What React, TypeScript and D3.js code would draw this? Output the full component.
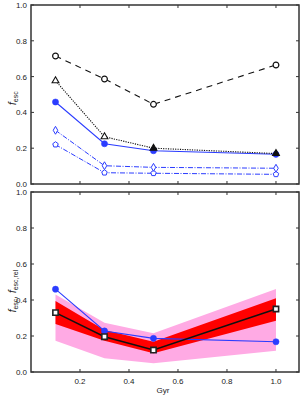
import React, { useEffect, useRef } from 'react';
import * as d3 from 'd3';

// shared x positions (Gyr)
const ages = [0.1, 0.3, 0.5, 1.0];
const xTicks = [0.2, 0.4, 0.6, 0.8, 1.0];
const yTicks = [0.0, 0.2, 0.4, 0.6, 0.8, 1.0];

// top panel series
const blackCircles = [0.715, 0.587, 0.445, 0.665];
const blackTriangles = [0.577, 0.264, 0.2, 0.17];
const triangleFilled = [false, false, true, true];
const blueFilled = [0.458, 0.225, 0.186, 0.166];
const blueDiamonds = [0.3, 0.102, 0.093, 0.088];
const bluePentagons = [0.22, 0.063, 0.06, 0.054];

// bottom panel series
const pinkLow = [0.174, 0.076, 0.048, 0.118];
const pinkHigh = [0.43, 0.274, 0.215, 0.461];
const redLow = [0.267, 0.174, 0.104, 0.285];
const redHigh = [0.394, 0.233, 0.168, 0.41];
const relSquares = [0.33, 0.196, 0.122, 0.35];
const blueBottom = [0.46, 0.228, 0.187, 0.168];

const W = 301;
const H = 396;
const BLUE = '#2b3cff';

export default function App() {
  const svgRef = useRef<SVGSVGElement>(null);

  useEffect(() => {
    if (!svgRef.current) return;
    const svg = d3.select(svgRef.current);
    svg.selectAll('*').remove();
    svg.style('font-family', '"Liberation Sans", Arial, sans-serif');

    const x = d3.scaleLinear().domain([0, 1.094]).range([31, 299]);

    const drawFrame = (g: any, y: any, showXLabels: boolean) => {
      const [y0, y1] = y.range();
      const [x0, x1] = x.range();
      // ticks inside
      xTicks.forEach(t => {
        g.append('line').attr('x1', x(t)).attr('x2', x(t)).attr('y1', y0).attr('y2', y0 - 3)
          .attr('stroke', '#333').attr('stroke-width', 1);
        g.append('line').attr('x1', x(t)).attr('x2', x(t)).attr('y1', y1).attr('y2', y1 + 3)
          .attr('stroke', '#333').attr('stroke-width', 1);
        if (showXLabels) {
          g.append('text').attr('x', x(t)).attr('y', y0 + 12).attr('text-anchor', 'middle')
            .attr('font-size', 8).attr('fill', '#222').text(d3.format('.1f')(t));
        }
      });
      yTicks.forEach(t => {
        g.append('line').attr('x1', x0).attr('x2', x0 + 3).attr('y1', y(t)).attr('y2', y(t))
          .attr('stroke', '#333').attr('stroke-width', 1);
        g.append('line').attr('x1', x1).attr('x2', x1 - 3).attr('y1', y(t)).attr('y2', y(t))
          .attr('stroke', '#333').attr('stroke-width', 1);
        g.append('text').attr('x', x0 - 4).attr('y', y(t) + 3).attr('text-anchor', 'end')
          .attr('font-size', 8).attr('fill', '#222').text(d3.format('.1f')(t));
      });
      g.append('rect').attr('x', x0).attr('y', y1).attr('width', x1 - x0).attr('height', y0 - y1)
        .attr('fill', 'none').attr('stroke', '#333').attr('stroke-width', 1.5);
    };

    const series = (g: any, y: any, vals: number[], stroke: string, width: number, dash: string | null) => {
      const line = d3.line<number>().x((_, i) => x(ages[i])).y(d => y(d));
      g.append('path').attr('d', line(vals)).attr('fill', 'none').attr('stroke', stroke)
        .attr('stroke-width', width).attr('stroke-dasharray', dash);
    };

    const markers = (g: any, y: any, vals: number[], type: any, size: number,
      fill: string | ((i: number) => string), stroke: string, sw = 1) => {
      const sym = d3.symbol().type(type).size(size);
      vals.forEach((v, i) => {
        g.append('path').attr('d', sym()).attr('transform', `translate(${x(ages[i])},${y(v)})`)
          .attr('fill', typeof fill === 'function' ? fill(i) : fill)
          .attr('stroke', stroke).attr('stroke-width', sw);
      });
    };

    const pentagon = {
      draw(ctx: any, size: number) {
        const r = Math.sqrt(size / 2.4);
        for (let k = 0; k < 5; k++) {
          const a = -Math.PI / 2 + (k * 2 * Math.PI) / 5;
          if (k === 0) ctx.moveTo(r * Math.cos(a), r * Math.sin(a));
          else ctx.lineTo(r * Math.cos(a), r * Math.sin(a));
        }
        ctx.closePath();
      },
    };

    // ---------- top panel
    const yTop = d3.scaleLinear().domain([0, 1]).range([184, 5]);
    const top = svg.append('g');
    series(top, yTop, bluePentagons, BLUE, 1, '5,1.5,1,1.5');
    series(top, yTop, blueDiamonds, BLUE, 1, '5,1.5,1,1.5');
    series(top, yTop, blueFilled, BLUE, 1.1, null);
    series(top, yTop, blackTriangles, '#111', 1.1, '1.2,1.2');
    series(top, yTop, blackCircles, '#111', 1.1, '6,5');
    markers(top, yTop, bluePentagons, pentagon, 20, 'white', BLUE, 1);
    markers(top, yTop, blueDiamonds, d3.symbolDiamond, 18, 'white', BLUE, 1);
    markers(top, yTop, blackCircles, d3.symbolCircle, 26, 'white', '#111', 1.2);
    markers(top, yTop, blueFilled, d3.symbolCircle, 30, BLUE, BLUE, 0.5);
    markers(top, yTop, blackTriangles, d3.symbolTriangle, 20,
      i => (triangleFilled[i] ? '#111' : 'white'), '#111', 1.1);
    drawFrame(top, yTop, false);
    top.append('text')
      .attr('transform', `translate(16,${yTop(0.48)}) rotate(-90)`)
      .attr('text-anchor', 'middle').attr('font-size', 10).attr('fill', '#222')
      .html('<tspan font-style="italic">f</tspan><tspan font-size="7" dy="2">esc</tspan>');

    // ---------- bottom panel
    const yBot = d3.scaleLinear().domain([0, 1]).range([372, 192]);
    const bot = svg.append('g');
    const band = (lo: number[], hi: number[], color: string) => {
      const area = d3.area<number>().x((_, i) => x(ages[i])).y0((_, i) => yBot(lo[i])).y1(d => yBot(d));
      bot.append('path').attr('d', area(hi)).attr('fill', color);
    };
    band(pinkLow, pinkHigh, '#ffaae4');
    band(redLow, redHigh, '#ff0000');
    series(bot, yBot, blueBottom, BLUE, 1.1, null);
    series(bot, yBot, relSquares, '#111', 1.5, null);
    markers(bot, yBot, blueBottom, d3.symbolCircle, 30, BLUE, BLUE, 0.5);
    markers(bot, yBot, relSquares, d3.symbolSquare, 28, 'white', '#222', 1.6);
    drawFrame(bot, yBot, true);
    bot.append('text')
      .attr('transform', `translate(16,${yBot(0.45)}) rotate(-90)`)
      .attr('text-anchor', 'middle').attr('font-size', 10).attr('fill', '#222')
      .html('<tspan font-style="italic">f</tspan><tspan font-size="7" dy="2">esc</tspan><tspan dy="-2">, </tspan><tspan font-style="italic">f</tspan><tspan font-size="7" dy="2">esc,rel</tspan>');
    bot.append('text').attr('x', x(0.6) - 15).attr('y', 393).attr('text-anchor', 'middle')
      .attr('font-size', 8).attr('fill', '#222').text('Gyr');
  }, []);

  return (
    <div style={{ position: 'absolute', left: 0, top: 0 }}>
      <svg ref={svgRef} width={W} height={H} />
    </div>
  );
}
